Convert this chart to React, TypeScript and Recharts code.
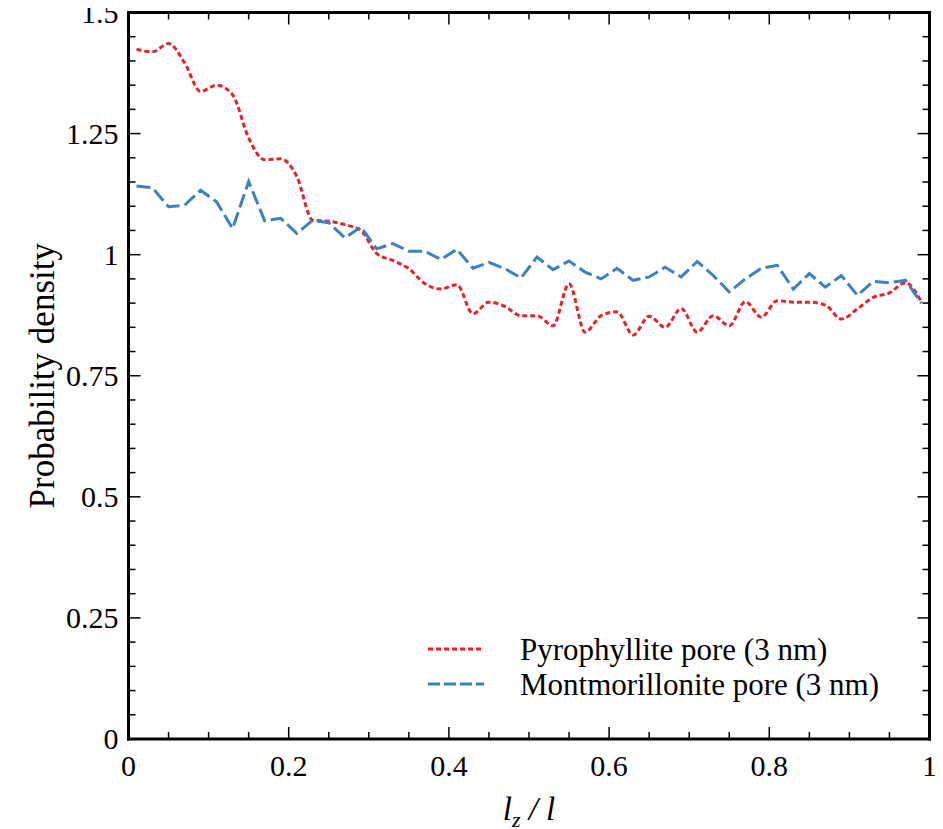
import { LineChart, Line, XAxis, YAxis } from 'recharts';

const position = [
  0.01, 0.03, 0.05, 0.07, 0.09, 0.11, 0.13, 0.15, 0.17, 0.19,
  0.21, 0.23, 0.25, 0.27, 0.29, 0.31, 0.33, 0.35, 0.37, 0.39,
  0.41, 0.43, 0.45, 0.47, 0.49, 0.51, 0.53, 0.55, 0.57, 0.59,
  0.61, 0.63, 0.65, 0.67, 0.69, 0.71, 0.73, 0.75, 0.77, 0.79,
  0.81, 0.83, 0.85, 0.87, 0.89, 0.91, 0.93, 0.95, 0.97, 0.99,
];

const pyrophyllite = [
  1.424, 1.419, 1.436, 1.396, 1.337, 1.35, 1.33, 1.241, 1.196, 1.198,
  1.162, 1.071, 1.069, 1.062, 1.05, 1.002, 0.988, 0.971, 0.94, 0.929,
  0.938, 0.878, 0.902, 0.893, 0.874, 0.874, 0.853, 0.94, 0.84, 0.874,
  0.882, 0.834, 0.873, 0.85, 0.889, 0.84, 0.874, 0.853, 0.903, 0.871,
  0.905, 0.902, 0.902, 0.896, 0.867, 0.888, 0.912, 0.921, 0.942, 0.902,
];

const montmorillonite = [
  1.142, 1.138, 1.099, 1.102, 1.133, 1.109, 1.054, 1.151, 1.07, 1.075,
  1.044, 1.071, 1.066, 1.035, 1.057, 1.012, 1.023, 1.007, 1.007, 0.99,
  1.011, 0.972, 0.984, 0.971, 0.952, 0.995, 0.969, 0.987, 0.964, 0.95,
  0.972, 0.947, 0.954, 0.974, 0.954, 0.986, 0.957, 0.923, 0.95, 0.972,
  0.978, 0.929, 0.961, 0.933, 0.957, 0.916, 0.945, 0.942, 0.947, 0.9,
];

const xTicks = [
  0, 0.05, 0.1, 0.15, 0.2, 0.25, 0.3, 0.35, 0.4, 0.45, 0.5,
  0.55, 0.6, 0.65, 0.7, 0.75, 0.8, 0.85, 0.9, 0.95, 1,
];
const xLabelled = [0, 0.2, 0.4, 0.6, 0.8, 1];

const yTicks = [
  0, 0.05, 0.1, 0.15, 0.2, 0.25, 0.3, 0.35, 0.4, 0.45, 0.5,
  0.55, 0.6, 0.65, 0.7, 0.75, 0.8, 0.85, 0.9, 0.95, 1,
  1.05, 1.1, 1.15, 1.2, 1.25, 1.3, 1.35, 1.4, 1.45, 1.5,
];
const yLabelled = [0, 0.25, 0.5, 0.75, 1, 1.25, 1.5];

const data = position.map((x, i) => ({
  x,
  pyro: pyrophyllite[i],
  mont: montmorillonite[i],
}));

const FONT = "'Liberation Serif', 'Times New Roman', serif";
const RED = '#e8222a';
const BLUE = '#3a82c4';

const isIn = (list: number[], v: number) => list.some((t) => Math.abs(t - v) < 1e-9);

// ticks point into the plot; major ones are longer and carry a label
function XTick(props: any) {
  const { x, y, payload, side } = props;
  const major = isIn(xLabelled, payload.value);
  const len = major ? 12 : 7;
  const dir = side === 'top' ? 1 : -1;
  return (
    <g>
      <line x1={x} y1={y} x2={x} y2={y + dir * len} stroke="#000" strokeWidth={1.5} />
      {major && side !== 'top' && (
        <text x={x} y={y + 37} textAnchor="middle" fontFamily={FONT} fontSize={30} fill="#000">
          {String(payload.value)}
        </text>
      )}
    </g>
  );
}

function YTick(props: any) {
  const { x, y, payload, side } = props;
  const major = isIn(yLabelled, payload.value);
  const len = major ? 12 : 7;
  const dir = side === 'right' ? -1 : 1;
  return (
    <g>
      <line x1={x} y1={y} x2={x + dir * len} y2={y} stroke="#000" strokeWidth={1.5} />
      {major && side !== 'right' && (
        <text x={x - 10} y={y + 10} textAnchor="end" fontFamily={FONT} fontSize={30} fill="#000">
          {String(payload.value)}
        </text>
      )}
    </g>
  );
}

function LegendBox() {
  const rows = [
    { label: 'Pyrophyllite pore (3 nm)', color: RED, dash: '5 3' },
    { label: 'Montmorillonite pore (3 nm)', color: BLUE, dash: '12 4' },
  ];
  return (
    <svg width={480} height={80} style={{ position: 'absolute', left: 420, top: 627 }}>
      {rows.map((r, i) => (
        <g key={r.label}>
          <line x1={0} x2={56} y1={14 + i * 35} y2={14 + i * 35} stroke={r.color} strokeWidth={3} strokeDasharray={r.dash} />
          <text x={92} y={25 + i * 35} fontFamily={FONT} fontSize={31} fill="#000">
            {r.label}
          </text>
        </g>
      ))}
    </svg>
  );
}

const axisLine = { stroke: '#000', strokeWidth: 3, strokeLinecap: 'square' as const };

export default function App() {
  return (
    <div style={{ width: 935, height: 821, position: 'relative' }}>
      <LineChart
        width={935}
        height={821}
        data={data}
        margin={{ top: 3.5, right: 12.5, left: 0.5, bottom: 0 }}
      >
        <XAxis
          dataKey="x"
          type="number"
          domain={[0, 1]}
          ticks={xTicks}
          interval={0}
          height={90}
          tickSize={0}
          tickMargin={0}
          tickLine={false}
          axisLine={axisLine}
          tick={(p: any) => <XTick {...p} side="bottom" />}
          label={{
            content: (p: any) => {
              const vb = p.viewBox;
              return (
                <text
                  x={vb.x + vb.width / 2}
                  y={vb.y + 81}
                  textAnchor="middle"
                  fontFamily={FONT}
                  fontSize={33}
                  fontStyle="italic"
                  fill="#000"
                >
                  l<tspan fontSize={22} dy={7}>z</tspan>
                  <tspan dy={-7}> / l</tspan>
                </text>
              );
            },
          }}
        />
        <XAxis
          xAxisId="top"
          dataKey="x"
          orientation="top"
          type="number"
          domain={[0, 1]}
          ticks={xTicks}
          interval={0}
          height={1}
          tickSize={0}
          tickMargin={0}
          tickLine={false}
          axisLine={axisLine}
          tick={(p: any) => <XTick {...p} side="top" />}
        />
        <YAxis
          type="number"
          domain={[0, 1.5]}
          ticks={yTicks}
          interval={0}
          width={120}
          tickSize={0}
          tickMargin={0}
          tickLine={false}
          axisLine={axisLine}
          tick={(p: any) => <YTick {...p} side="left" />}
          label={{
            content: (p: any) => {
              const vb = p.viewBox;
              const cx = 34;
              const cy = vb.y + vb.height / 2;
              return (
                <text
                  x={cx}
                  y={cy}
                  transform={`rotate(-90 ${cx} ${cy})`}
                  textAnchor="middle"
                  dominantBaseline="central"
                  fontFamily={FONT}
                  fontSize={35}
                  fill="#000"
                >
                  Probability density
                </text>
              );
            },
          }}
        />
        <YAxis
          yAxisId="right"
          orientation="right"
          type="number"
          domain={[0, 1.5]}
          ticks={yTicks}
          interval={0}
          width={1}
          tickSize={0}
          tickMargin={0}
          tickLine={false}
          axisLine={axisLine}
          tick={(p: any) => <YTick {...p} side="right" />}
        />
        <Line
          dataKey="pyro"
          type="monotone"
          stroke={RED}
          strokeWidth={3}
          strokeDasharray="5 3"
          dot={false}
          isAnimationActive={false}
        />
        <Line
          dataKey="mont"
          type="linear"
          stroke={BLUE}
          strokeWidth={3}
          strokeDasharray="14 5"
          dot={false}
          isAnimationActive={false}
        />
        {/* invisible series so the top and right frame axes get drawn */}
        <Line
          xAxisId="top"
          yAxisId="right"
          dataKey="mont"
          stroke="none"
          dot={false}
          legendType="none"
          isAnimationActive={false}
        />
      </LineChart>
      <LegendBox />
    </div>
  );
}
